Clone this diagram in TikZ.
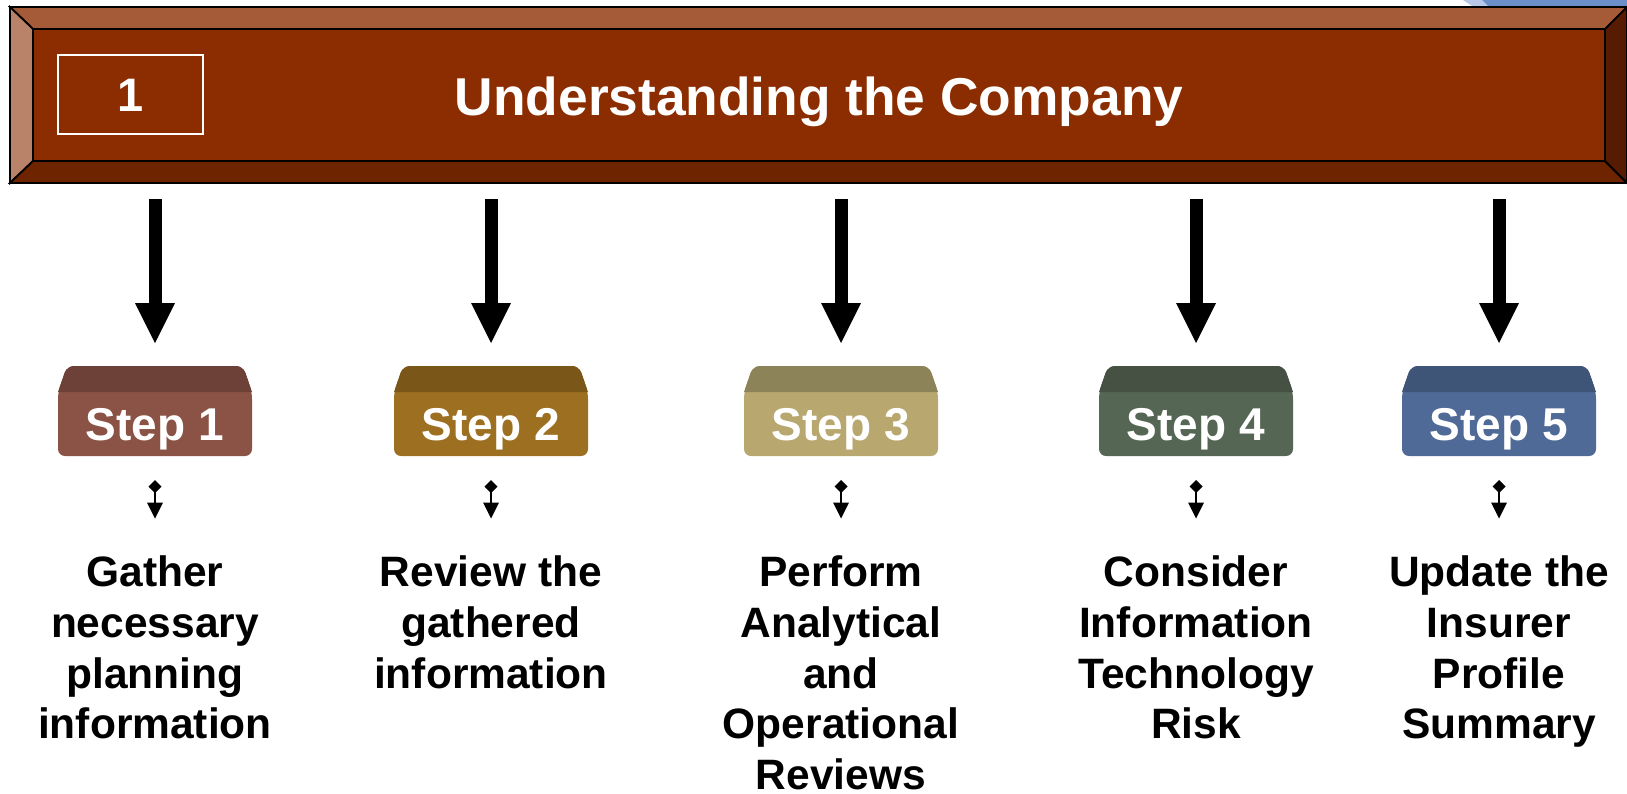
\documentclass[tikz,border=0pt]{standalone}
\usepackage{fontspec}
\setmainfont{Liberation Sans}
\usetikzlibrary{arrows.meta}
\pgfdeclarelayer{background}
\pgfsetlayers{background,main}

% banner bevel colours
\definecolor{bnCenter}{HTML}{8B2D00}
\definecolor{bnTop}{HTML}{A55B38}
\definecolor{bnLeft}{HTML}{B9836A}
\definecolor{bnBottom}{HTML}{6F2400}
\definecolor{bnRight}{HTML}{561B00}
\definecolor{cornerLight}{HTML}{B8C8E8}
\definecolor{cornerDark}{HTML}{6B8FC8}
% step block colours (front face / top face)
\definecolor{sAfront}{HTML}{8A5345}\definecolor{sAtop}{HTML}{6D4137}
\definecolor{sBfront}{HTML}{9C6F21}\definecolor{sBtop}{HTML}{7A5719}
\definecolor{sCfront}{HTML}{B8A86F}\definecolor{sCtop}{HTML}{8D8358}
\definecolor{sDfront}{HTML}{566654}\definecolor{sDtop}{HTML}{465043}
\definecolor{sEfront}{HTML}{4F6A97}\definecolor{sEtop}{HTML}{3E5577}

\begin{document}
\begin{tikzpicture}[x=1pt,y=-1pt,
  bevel/.style={draw=black, line width=1.8pt, line join=miter},
  numbox/.style={draw=white, line width=1.6pt, minimum width=145pt, minimum height=79pt,
    inner sep=0pt, text=white, font=\fontsize{47}{50}\selectfont\bfseries,
    text height=34pt, text depth=0pt},
  titletext/.style={text=white, font=\fontsize{53.3}{60}\selectfont\bfseries, inner sep=0pt},
  stepbox/.style={minimum width=194pt, minimum height=64pt, inner sep=0pt, outer sep=0pt,
    text=white, font=\fontsize{46}{50}\selectfont\bfseries, text height=33pt, text depth=0pt},
  desc/.style={align=center, inner sep=0pt, anchor=north,
    font=\fontsize{42.5}{50.8}\selectfont\bfseries},
  bigarrow/.style={line width=13pt,
    -{Triangle[width=40pt,length=40pt,line width=0pt]},
    shorten <=16pt, shorten >=49pt},
  smallconn/.style={line width=2.2pt,
    {Diamond[width=13pt,length=13pt,line width=0pt]}-{Triangle[width=16pt,length=16pt,line width=0pt]},
    shorten <=24pt, shorten >=37pt}
]
\useasboundingbox (0,0) rectangle (1627,793);

% partly hidden shape behind the banner, upper right
\fill[cornerLight] (1463,0) -- (1482,0) -- (1490,8) -- (1475,8) -- cycle;
\fill[cornerDark] (1482,0) -- (1627,0) -- (1627,8) -- (1490,8) -- cycle;

% banner with bevelled frame
\node[minimum width=1617pt, minimum height=176pt, inner sep=0pt, outer sep=0pt] (banner) at (818.5,95) {};
\filldraw[bevel, fill=bnTop]    (10,7) -- (1627,7) -- (1605,29) -- (33,29) -- cycle;
\filldraw[bevel, fill=bnLeft]   (10,7) -- (33,29) -- (33,161) -- (10,183) -- cycle;
\filldraw[bevel, fill=bnBottom] (10,183) -- (1627,183) -- (1605,161) -- (33,161) -- cycle;
\filldraw[bevel, fill=bnRight]  (1627,7) -- (1627,183) -- (1605,161) -- (1605,29) -- cycle;
\filldraw[bevel, fill=bnCenter] (33,29) rectangle (1605,161);
\draw[line width=2.5pt] (10,7) rectangle (1628,183);

\node[numbox] (num) at (130.5,94.5) {1};
\node[titletext, anchor=base] (title) at (819,115) {Understanding the Company};

% step blocks
\foreach \i/\x/\fc/\tc in {1/155/sAfront/sAtop, 2/491/sBfront/sBtop, 3/841/sCfront/sCtop,
                           4/1196/sDfront/sDtop, 5/1499/sEfront/sEtop} {
  \node[stepbox] (s\i) at (\x,424) {Step \i};
  \begin{pgfonlayer}{background}
    \fill[\fc, rounded corners=7pt]
      ([xshift=9pt,yshift=26pt]s\i.north west) -- ([xshift=-9pt,yshift=26pt]s\i.north east)
      -- (s\i.north east) -- (s\i.south east) -- (s\i.south west) -- (s\i.north west) -- cycle;
    \fill[\tc]
      (s\i.north west) [rounded corners=7pt] -- ([xshift=9pt,yshift=26pt]s\i.north west)
      -- ([xshift=-9pt,yshift=26pt]s\i.north east) [sharp corners] -- (s\i.north east) -- cycle;
  \end{pgfonlayer}
}

% step descriptions
\node[desc] (t1) at (155,555.5)  {Gather\\necessary\\planning\\information};
\node[desc] (t2) at (491,555.5)  {Review the\\gathered\\information};
\node[desc] (t3) at (841,555.5)  {Perform\\Analytical\\and\\Operational\\Reviews};
\node[desc] (t4) at (1196,555.5) {Consider\\Information\\Technology\\Risk};
\node[desc] (t5) at (1499,555.5) {Update the\\Insurer\\Profile\\Summary};

% connectors
\foreach \i in {1,...,5} {
  \draw[bigarrow] (banner.south -| s\i.north) -- (s\i.north);
  \draw[smallconn] (s\i.south) -- (t\i.north);
}
\end{tikzpicture}
\end{document}
